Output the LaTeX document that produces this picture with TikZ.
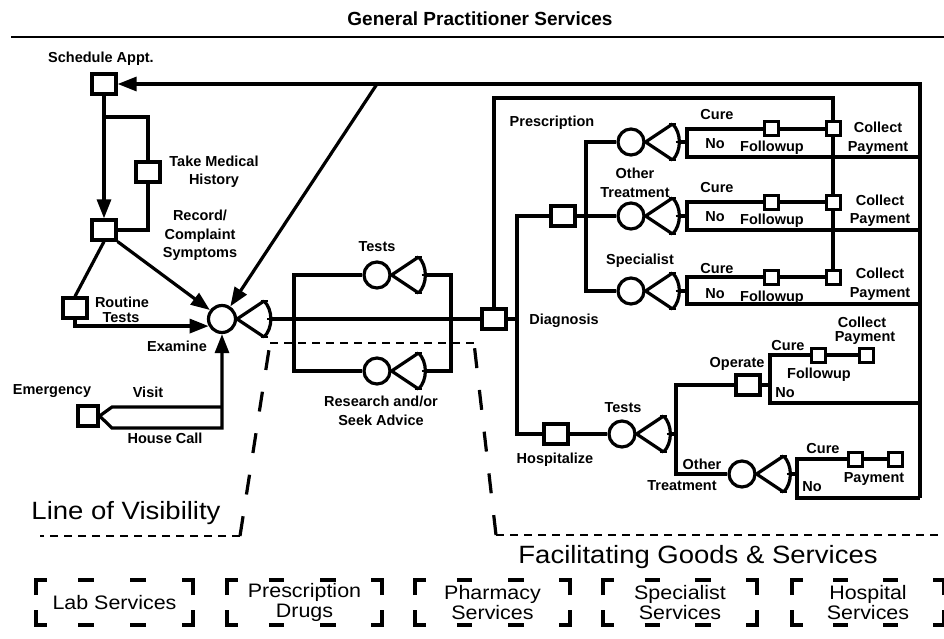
\documentclass[tikz,border=0pt]{standalone}
\usepackage{fontspec}
\setmainfont{Liberation Sans}
\newfontfamily\widesans[FakeStretch=1.1]{Liberation Sans}
\usetikzlibrary{arrows.meta,calc}

\tikzset{
  flow/.style={line width=3.2pt, line join=miter},
  arr/.style={flow, -{Triangle[length=19pt,width=14pt]}},
  box/.style={draw, line width=3.2pt, fill=white, inner sep=0pt,
              minimum width=24pt, minimum height=20pt},
  smallbox/.style={draw, line width=3pt, fill=white, inner sep=0pt,
              minimum width=14pt, minimum height=14pt},
  act/.style={draw, circle, line width=3.2pt, fill=white, inner sep=0pt,
              minimum size=26pt},
  lbl/.style={font=\bfseries\fontsize{14.5}{18.5}\selectfont, inner sep=0pt, align=center},
  big/.style={font=\widesans\fontsize{25}{28}\selectfont, inner sep=0pt},
  fac/.style={inner sep=0pt, outer sep=0pt, minimum width=155pt, minimum height=45pt,
              align=center, font=\widesans\fontsize{19.5}{20.5}\selectfont},
  brk/.style={line width=3.2pt},
  vis/.style={line width=2.8pt, dash pattern=on 8pt off 6pt},
  slant/.style={line width=3.2pt, dash pattern=on 20pt off 22pt},
  tickmark/.style={line width=2.4pt},
  fan/.pic={
    \draw[flow] (27,-18) -- (0,0) -- (27,18);
    \draw[flow] (27,-18) .. controls (36,-9) and (36,9) .. (27,18);
    \draw[tickmark] (23.5,-18) -- (30.5,-18);
    \draw[tickmark] (23.5,18) -- (30.5,18);
    \draw[tickmark] (30,0) -- (37,0);
    \coordinate (-out) at (33.5,0);
  }
}

% dashed bracket frame round a facilitating-goods node
\newcommand\fgbracket[1]{%
  \draw[brk] ($(#1.north west)+(0,15)$) -- (#1.north west) -- ++(11,0);
  \draw[brk] ($(#1.north east)+(0,15)$) -- (#1.north east) -- ++(-11,0);
  \draw[brk] ($(#1.south west)+(0,-15)$) -- (#1.south west) -- ++(11,0);
  \draw[brk] ($(#1.south east)+(0,-15)$) -- (#1.south east) -- ++(-11,0);
  \draw[brk] ($(#1.north west)!0.27!(#1.north east)$) -- ($(#1.north west)!0.37!(#1.north east)$);
  \draw[brk] ($(#1.north west)!0.60!(#1.north east)$) -- ($(#1.north west)!0.70!(#1.north east)$);
  \draw[brk] ($(#1.south west)!0.27!(#1.south east)$) -- ($(#1.south west)!0.37!(#1.south east)$);
  \draw[brk] ($(#1.south west)!0.60!(#1.south east)$) -- ($(#1.south west)!0.70!(#1.south east)$);
}

\begin{document}
\begin{tikzpicture}[x=1pt,y=-1pt]
\useasboundingbox (0,0) rectangle (944,639);

% title and rule
\node[font=\bfseries\fontsize{19}{22}\selectfont, inner sep=0pt] (title) at (480,19) {General Practitioner Services};
\coordinate (ruleL) at (11,37);
\coordinate (ruleR) at (944,37);
\draw[line width=2.6pt] (ruleL) -- (ruleR);

% ---------- arrival and examination ----------
\node[box] (sched) at (104,84) {};
\node[box] (hist) at (148,172) {};
\node[box] (rec) at (104,230) {};
\node[box] (rout) at (75,308) {};
\node[act, minimum size=27pt] (exam) at (222,319) {};
\node[box, minimum width=20pt] (emerg) at (88,416) {};

\node[lbl] at (101,59) {Schedule Appt.};
\node[lbl] at (214,172) {Take Medical\\History};
\node[lbl] at (200,235.5) {Record/\\Complaint\\Symptoms};
\node[lbl] at (122,302) {Routine};
\node[lbl] at (121,318) {Tests};
\node[lbl] at (177,346) {Examine};
\node[lbl] at (52,391) {Emergency};
\node[lbl] at (148,392) {Visit};
\node[lbl] at (165,438) {House Call};

\coordinate (split) at (104,117);
\draw[arr] (sched.south) -- (rec.north);
\draw[flow] (split) -| (hist.north);
\draw[flow] (hist.south) |- (rec.east);
\draw[flow] (rec.south) -- (rout.north);
\draw[arr] (rec.south east) -- (exam);
\draw[arr] (rout.south) |- (exam.208);

\coordinate (visitL) at (112,407);
\coordinate (visitR) at (222,407);
\coordinate (callL) at (112,428);
\coordinate (callR) at (222,428);
\draw[flow] (emerg.east) -- (visitL) -- (visitR);
\draw[arr] (emerg.east) -- (callL) -- (callR) -- (exam.south);

\coordinate (diagTop) at (377,84);
\draw[arr] (diagTop) -- (exam);

% ---------- tests / research ----------
\pic (exf) at (exam.east) {fan};
\node[box] (diag) at (494,319) {};
\node[lbl] at (564,321) {Diagnosis};
\draw[flow] (exf-out) -- (diag.west);

\node[act] (tst) at (377,275) {};
\node[act] (res) at (377,371) {};
\pic (tstf) at (tst.east) {fan};
\pic (resf) at (res.east) {fan};
\node[lbl] at (377,247) {Tests};
\node[lbl] at (381,411) {Research and/or\\Seek Advice};
\coordinate (parL) at (294,319);
\coordinate (parR) at (451,319);
\draw[flow] (parL) |- (tst.west);
\draw[flow] (parL) |- (res.west);
\draw[flow] (tstf-out) -| (parR);
\draw[flow] (resf-out) -| (parR);

% ---------- diagnosis bus ----------
\coordinate (bus) at (517,319);
\node[box] (presc) at (563,216) {};
\node[box] (hosp) at (556,434) {};
\draw[flow] (diag.east) -- (bus);
\draw[flow] (presc.west) -| (bus);
\draw[flow] (hosp.west) -| (bus);
\node[lbl] at (552,123) {Prescription};
\node[lbl] at (555,460) {Hospitalize};

% ---------- prescription / treatment / specialist ----------
\coordinate (pbus) at (586,216);
\node[act] (rx1) at (631,142) {};
\node[act] (rx2) at (631,216) {};
\node[act] (rx3) at (631,291) {};
\draw[flow] (presc.east) -- (pbus);
\draw[flow] (pbus) |- (rx1.west);
\draw[flow] (pbus) -- (rx2.west);
\draw[flow] (pbus) |- (rx3.west);
\pic (rx1f) at (rx1.east) {fan};
\pic (rx2f) at (rx2.east) {fan};
\pic (rx3f) at (rx3.east) {fan};
\node[lbl] at (635,183) {Other\\Treatment};
\node[lbl] at (640,261) {Specialist};

\node[smallbox] (fu1) at (771,129) {};
\node[smallbox] (cp1) at (833,129) {};
\node[smallbox] (fu2) at (771,202) {};
\node[smallbox] (cp2) at (833,202) {};
\node[smallbox] (fu3) at (771,277) {};
\node[smallbox] (cp3) at (833,277) {};

\coordinate (rt1) at (687,129); \coordinate (rb1) at (687,157); \coordinate (re1) at (920,157);
\coordinate (rt2) at (687,202); \coordinate (rb2) at (687,230); \coordinate (re2) at (920,230);
\coordinate (rt3) at (687,277); \coordinate (rb3) at (687,304); \coordinate (re3) at (920,304);

\draw[flow] (rx1f-out) -- (rx1f-out -| rt1);
\draw[flow] (fu1.west) -- (rt1) -- (rb1) -- (re1);
\draw[flow] (fu1.east) -- (cp1.west);
\draw[flow] (rx2f-out) -- (rx2f-out -| rt2);
\draw[flow] (fu2.west) -- (rt2) -- (rb2) -- (re2);
\draw[flow] (fu2.east) -- (cp2.west);
\draw[flow] (rx3f-out) -- (rx3f-out -| rt3);
\draw[flow] (fu3.west) -- (rt3) -- (rb3) -- (re3);
\draw[flow] (fu3.east) -- (cp3.west);

\coordinate (loopR) at (833,98);
\draw[flow] (diag.north) |- (loopR) -- (cp1.north);
\draw[flow] (cp1.south) -- (cp2.north);
\draw[flow] (cp2.south) -- (cp3.north);

\node[lbl] at (717,115) {Cure};
\node[lbl] at (715,144) {No};
\node[lbl] at (772,148) {Followup};
\node[lbl] at (878,138.5) {Collect\\Payment};
\node[lbl] at (717,188) {Cure};
\node[lbl] at (715,217) {No};
\node[lbl] at (772,221) {Followup};
\node[lbl] at (880,211) {Collect\\Payment};
\node[lbl] at (717,269) {Cure};
\node[lbl] at (715,294) {No};
\node[lbl] at (772,298) {Followup};
\node[lbl] at (880,284) {Collect\\Payment};

% ---------- hospital ----------
\coordinate (busB) at (920,498);
\coordinate (busT) at (920,84);

\node[act] (htst) at (622,434) {};
\draw[flow] (hosp.east) -- (htst.west);
\pic (htstf) at (htst.east) {fan};
\coordinate (hbus) at (676,434);
\draw[flow] (htstf-out) -- (hbus);
\node[lbl] at (623,408) {Tests};

\node[box] (oper) at (748,385) {};
\node[act] (oth) at (742,474) {};
\draw[flow] (hbus) |- (oper.west);
\draw[flow] (hbus) |- (oth.west);
\node[lbl] at (737,364) {Operate};
\node[lbl] at (702,464) {Other};
\node[lbl] at (682,486) {Treatment};

\coordinate (oj) at (770,385);
\draw[flow] (oper.east) -- (oj);
\node[smallbox] (fu4) at (818,355) {};
\node[smallbox] (cp4) at (866,355) {};
\coordinate (ot4) at (770,355); \coordinate (ob4) at (770,403); \coordinate (oe4) at (920,403);
\draw[flow] (fu4.west) -- (ot4) -- (ob4) -- (oe4);
\draw[flow] (fu4.east) -- (cp4.west);
\node[lbl] at (788,346) {Cure};
\node[lbl] at (819,375) {Followup};
\node[lbl] at (785,393) {No};
\node[lbl] at (862,322) {Collect};
\node[lbl] at (865,338) {Payment};

\pic (othf) at (oth.east) {fan};
\coordinate (ot5) at (797,459); \coordinate (ob5) at (797,498);
\draw[flow] (othf-out) -- (othf-out -| ot5);
\node[smallbox] (cu5) at (855,459) {};
\node[smallbox] (pay5) at (895,459) {};
\draw[flow] (cu5.west) -- (ot5) -- (ob5) -- (busB);
\draw[flow] (cu5.east) -- (pay5.west);
\node[lbl] at (823,449) {Cure};
\node[lbl] at (874,479) {Payment};
\node[lbl] at (812,487) {No};

% ---------- return path to scheduling ----------
\draw[arr] (busB) -- (busT) -- (sched.east);

% ---------- line of visibility ----------
\coordinate (v1) at (40,536);
\coordinate (v2) at (240,536);
\coordinate (v3) at (270,343);
\coordinate (v4) at (474,343);
\coordinate (v5) at (496,535);
\coordinate (v6) at (944,535);
\draw[vis] (v2) -- (v1);
\draw[slant] (v2) -- (v3);
\draw[vis] (v3) -- (v4);
\draw[slant] (v5) -- (v4);
\draw[vis] (v5) -- (v6);

\node[big] at (126,513) {Line of Visibility};
\node[big] at (698,557) {Facilitating Goods \& Services};

% ---------- facilitating goods and services ----------
\node[fac, minimum width=157pt] (lab) at (114.5,602.5) {Lab Services};
\node[fac] (drugs) at (304.5,602.5) {Prescription\\Drugs};
\node[fac] (pharm) at (492.5,602.5) {Pharmacy\\Services};
\node[fac, minimum width=154pt] (spec) at (680,602.5) {Specialist\\Services};
\node[fac, minimum width=152pt] (hospsvc) at (868,602.5) {Hospital\\Services};
\fgbracket{lab}
\fgbracket{drugs}
\fgbracket{pharm}
\fgbracket{spec}
\fgbracket{hospsvc}

\end{tikzpicture}
\end{document}
